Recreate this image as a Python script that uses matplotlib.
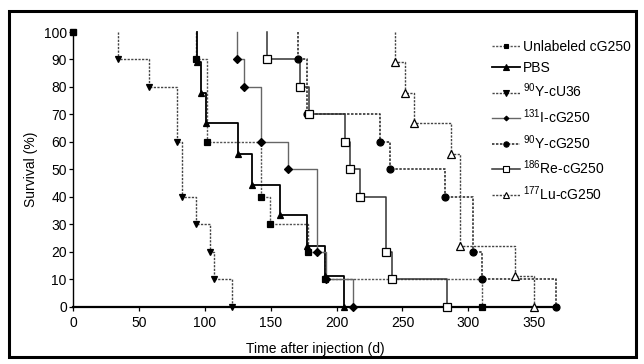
import numpy as np
import matplotlib
matplotlib.use('Agg')
import matplotlib.pyplot as plt
from matplotlib.patches import Rectangle

plt.rcParams['font.family'] = ['Liberation Sans', 'DejaVu Sans']
plt.rcParams['mathtext.default'] = 'regular'

# survival data (time in days, survival %)
unlab_t = [93.5, 101.5, 142.5, 149.5, 178, 191.5, 310]
unlab_s = [90, 60, 40, 30, 20, 10, 0]

pbs_t = [94, 97, 101, 125, 136, 157, 177.5, 191, 205.5]
pbs_s = [88.9, 77.8, 66.7, 55.6, 44.4, 33.3, 22.2, 11.1, 0]

cu36_t = [34, 58, 79, 83, 93, 104, 107, 121]
cu36_s = [90, 80, 60, 40, 30, 20, 10, 0]

i131_t = [124.7, 129.7, 142.7, 163.5, 184.8, 191.8, 212.7]
i131_s = [90, 80, 60, 50, 20, 10, 0]

y90_t = [170.8, 177.5, 233.3, 240.2, 282.6, 303.4, 310.5, 366.6]
y90_s = [90, 70, 60, 50, 40, 20, 10, 0]

re_t = [147, 172.4, 179.2, 206.6, 210.4, 217.6, 237.6, 241.7, 283.8]
re_s = [90, 80, 70, 60, 50, 40, 20, 10, 0]

lu_t = [244.7, 251.6, 258.7, 286.6, 293.7, 335.6, 349.6]
lu_s = [88.9, 77.8, 66.7, 55.6, 22.2, 11.1, 0]

labels = ['Unlabeled cG250', 'PBS', '$^{90}$Y-cU36', '$^{131}$I-cG250',
          '$^{90}$Y-cG250', '$^{186}$Re-cG250', '$^{177}$Lu-cG250']

dot = (0, (1.6, 1.0))
series = [
    (unlab_t, unlab_s, 's', 'black', dot, '#555555', 1.0, 4.5),
    (pbs_t, pbs_s, '^', 'black', '-', 'black', 1.3, 5.0),
    (cu36_t, cu36_s, 'v', 'black', dot, '#444444', 1.0, 5.0),
    (i131_t, i131_s, 'D', 'black', '-', '#666666', 1.0, 3.6),
    (y90_t, y90_s, 'o', 'black', dot, '#222222', 1.1, 5.0),
    (re_t, re_s, 's', 'white', '-', '#333333', 1.1, 5.3),
    (lu_t, lu_s, '^', 'white', dot, '#444444', 1.0, 5.3),
]

fig = plt.figure(figsize=(6.44, 3.64), dpi=100)
ax = fig.add_axes([73/644, 1-306.7/364, (558-73)/644, (306.7-32)/364])

handles = []
for (t, s, m, fc, ls, lc, lw, ms), lab in zip(series, labels):
    x = [t[0]] + list(t)
    y = [100] + list(s)
    ax.plot(x, y, drawstyle='steps-post', color=lc, linestyle=ls, lw=lw,
            clip_on=False, zorder=2)
    ax.plot(t, s, linestyle='none', marker=m, mfc=fc, mec='black', mew=0.9,
            ms=ms, clip_on=False, zorder=3)
    h, = ax.plot([], [], color=lc, linestyle=ls, lw=lw, marker=m, mfc=fc,
                 mec='black', mew=0.8, ms=ms - 1.2)
    handles.append(h)

# starting point
ax.plot([0], [100], 's', mfc='black', mec='black', ms=4.5, clip_on=False, zorder=3)

ax.set_xlim(0, 368)
ax.set_ylim(0, 100)
ax.set_xticks(np.arange(0, 351, 50))
ax.set_yticks(np.arange(0, 101, 10))
ax.spines['top'].set_visible(False)
ax.spines['right'].set_visible(False)
ax.spines['left'].set_linewidth(1.0)
ax.spines['bottom'].set_linewidth(1.6)
ax.tick_params(direction='out', length=3, width=0.9, labelsize=10, pad=1.5)
ax.tick_params(axis='x', pad=4)
ax.set_xlabel('Time after injection (d)', fontsize=10, labelpad=8)
ax.set_ylabel('Survival (%)', fontsize=10, labelpad=4)

fig.legend(handles, labels, loc='upper left', bbox_to_anchor=(492/644, 1-40/364),
           frameon=False, fontsize=10, handlelength=2.0, handletextpad=0.2,
           labelspacing=0.5, borderpad=0, borderaxespad=0)

fig.patches.append(Rectangle((8.5/644, 1-357/364), (636-8.5)/644, (357-11)/364,
                             transform=fig.transFigure, fill=False,
                             edgecolor='black', lw=2.2))

fig.savefig('out.png', dpi=100)
